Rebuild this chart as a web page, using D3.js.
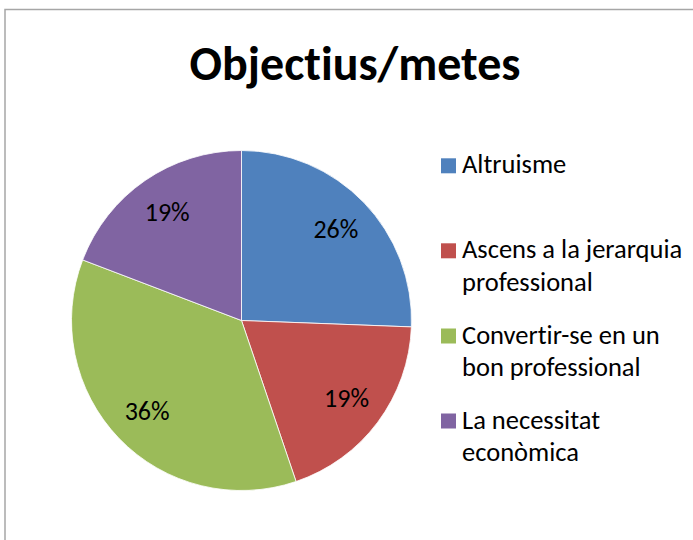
<!DOCTYPE html>
<html><head><meta charset="utf-8">
<script src="https://cdn.jsdelivr.net/npm/d3@7"></script>
<style>body{margin:0;background:#fff}svg{display:block}text{font-variant-ligatures:none;font-feature-settings:"liga" 0,"clig" 0}</style>
</head><body>
<script>
const title = "Objectius/metes";
const categories = ["Altruisme", "Ascens a la jerarquia professional", "Convertir-se en un bon professional", "La necessitat econòmica"];
const legendLines = [["Altruisme"], ["Ascens a la jerarquia", "professional"], ["Convertir-se en un", "bon professional"], ["La necessitat", "econòmica"]];
const values = [25.6, 19.2, 36.0, 19.2];
const colors = ["#4F81BD", "#C0504D", "#9BBB59", "#8064A2"];

const W = 693, H = 540;
const svg = d3.select("body").append("svg").attr("width", W).attr("height", H);
svg.append("rect").attr("x", 0).attr("y", 0).attr("width", W).attr("height", H).attr("fill", "#fff");
svg.append("path").attr("d", `M5,${H+2} L5,9.5 L${W+2},9.5`).attr("fill", "none").attr("stroke", "#a6a6a6").attr("stroke-width", 1.5);

const font = "Carlito, 'Noto Sans', sans-serif";
svg.append("text").attr("x", 355).attr("y", 80).attr("text-anchor", "middle")
  .attr("font-family", font).attr("font-weight", "bold").attr("font-size", 48).attr("fill", "#000").text(title);

const cx = 241.5, cy = 320.5, r = 170;
const total = d3.sum(values);
const pie = d3.pie().sort(null).value(d => d)(values);
const arc = d3.arc().innerRadius(0).outerRadius(r);
const labelArc = d3.arc().innerRadius(131).outerRadius(131);
const g = svg.append("g").attr("transform", `translate(${cx},${cy})`);
g.selectAll("path").data(pie).join("path").attr("d", arc)
  .attr("fill", (d, i) => colors[i]).attr("stroke", "#fff").attr("stroke-width", 0.8);
g.selectAll("text").data(pie).join("text")
  .attr("transform", d => `translate(${labelArc.centroid(d)})`)
  .attr("text-anchor", "middle").attr("dy", "0.33em")
  .attr("font-family", font).attr("font-size", 26).attr("fill", "#000")
  .text(d => Math.round(d.value / total * 100) + "%");

const legendY = [173.3, 258.3, 343.5, 428.5];
const lg = svg.append("g");
legendLines.forEach((lines, i) => {
  lg.append("rect").attr("x", 441).attr("y", legendY[i] - 15).attr("width", 15).attr("height", 15).attr("fill", colors[i]);
  lines.forEach((ln, j) => {
    lg.append("text").attr("x", 462).attr("y", legendY[i] + j * 32.5)
      .attr("font-family", font).attr("font-size", 26.5).attr("fill", "#000").text(ln);
  });
});
</script>
</body></html>
